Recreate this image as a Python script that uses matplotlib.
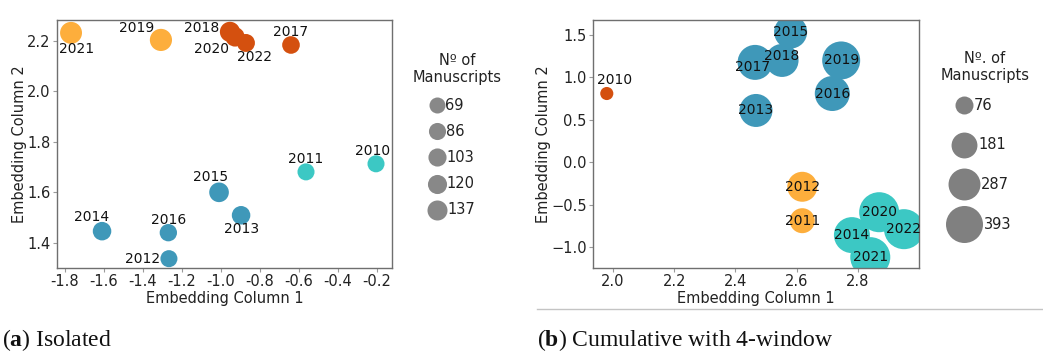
import matplotlib
matplotlib.use("Agg")
import matplotlib.pyplot as plt
import numpy as np

# ============================================================================
# Data
# ============================================================================

# panel (a): isolated
years_a = ['2021', '2019', '2018', '2020', '2022', '2017', '2010', '2011',
           '2015', '2013', '2014', '2016', '2012']
x_a = [-1.769, -1.308, -0.954, -0.928, -0.872, -0.641, -0.205, -0.564,
       -1.010, -0.897, -1.610, -1.270, -1.267]
y_a = [2.232, 2.204, 2.236, 2.216, 2.192, 2.184, 1.713, 1.681,
       1.600, 1.509, 1.446, 1.440, 1.337]
n_a = [175, 180, 140, 125, 100, 95, 85, 85, 130, 110, 110, 90, 85]
group_a = ['light', 'light', 'dark', 'dark', 'dark', 'dark', 'teal', 'teal',
           'blue', 'blue', 'blue', 'blue', 'blue']
legend_a = [69, 86, 103, 120, 137]

# panel (b): cumulative with 4-window
years_b = ['2010', '2015', '2017', '2018', '2019', '2016', '2013', '2012',
           '2011', '2020', '2022', '2014', '2021']
x_b = [1.980, 2.580, 2.464, 2.552, 2.745, 2.716, 2.467, 2.618,
       2.618, 2.869, 2.950, 2.780, 2.840]
y_b = [0.81, 1.535, 1.177, 1.200, 1.200, 0.810, 0.610, -0.290,
       -0.690, -0.590, -0.790, -0.860, -1.120]
n_b = [30, 308, 349, 308, 415, 349, 308, 250, 167, 463, 463, 370, 463]
group_b = ['dark', 'blue', 'blue', 'blue', 'blue', 'blue', 'blue', 'light',
           'light', 'teal', 'teal', 'teal', 'teal']
legend_b = [76, 181, 287, 393]

colors = {'light': '#FDAE3C', 'dark': '#D4500F',
          'blue': '#3F98B9', 'teal': '#3CC8C4'}

# label offsets in pixels (dx right, dy up)
offs_a = [(6, -16), (-24, 12), (-28, 4), (-24, -12), (9, -14), (0, 13),
          (-3, 13), (0, 13), (-8, 15), (0, -14), (-10, 14), (0, 13), (-26, 0)]
offs_b = [(8, 14), (0, 0), (-3, -5), (0, 4), (0, 0), (0, 0), (0, 0), (0, 0),
          (0, 0), (0, 0), (0, 0), (0, 0), (0, 0)]

# ============================================================================
# Plotting
# ============================================================================
W, H = 1043, 352
plt.rcParams['font.family'] = ['DejaVu Sans']
plt.rcParams['mathtext.fontset'] = 'custom'
plt.rcParams['mathtext.rm'] = 'Liberation Serif'
plt.rcParams['mathtext.bf'] = 'Liberation Serif:bold'
fig = plt.figure(figsize=(W / 100, H / 100), dpi=100)

FS = 10.5


def size_a(v):
    # marker area in pt^2 from manuscript count
    d = np.sqrt(110 + 2.12 * np.asarray(v, dtype=float))
    return (0.72 * d) ** 2


def size_b(v):
    d = np.sqrt(73 + 3.3 * np.asarray(v, dtype=float))
    return (0.72 * d) ** 2


def style_axes(ax):
    for sp in ax.spines.values():
        sp.set_color('#6f6f6f')
        sp.set_linewidth(1)
    ax.tick_params(direction='out', length=3, width=0.8, color='#9a9a9a',
                   labelsize=FS, labelcolor='#222222', pad=1.5)
    ax.set_xlabel('Embedding Column 1', fontsize=FS, color='#222222', labelpad=1)
    ax.set_ylabel('Embedding Column 2', fontsize=FS, color='#222222', labelpad=0)


def box(x0, y0, x1, y1):
    return [x0 / W, 1 - y1 / H, (x1 - x0) / W, (y1 - y0) / H]


# ---- panel (a)
ax1 = fig.add_axes(box(57, 20, 392, 268))
ax1.scatter(x_a, y_a, s=size_a(n_a), c=[colors[g] for g in group_a],
            linewidths=0, zorder=2)
for i in range(len(years_a)):
    ax1.annotate(years_a[i], (x_a[i], y_a[i]), xytext=offs_a[i],
                 textcoords='offset pixels', ha='center', va='center',
                 fontsize=10, color='#111111', zorder=3)
ax1.set_xlim(-1.841, -0.123)
ax1.set_ylim(1.30, 2.283)
ax1.set_xticks(np.arange(-1.8, -0.19, 0.2))
ax1.set_xticklabels(['%.1f' % t for t in np.arange(-1.8, -0.19, 0.2)])
ax1.set_yticks([1.4, 1.6, 1.8, 2.0, 2.2])
style_axes(ax1)

# ---- panel (b)
ax2 = fig.add_axes(box(593, 20, 919, 268))
ax2.scatter(x_b, y_b, s=size_b(n_b), c=[colors[g] for g in group_b],
            linewidths=0, zorder=2)
for i in range(len(years_b)):
    ax2.annotate(years_b[i], (x_b[i], y_b[i]), xytext=offs_b[i],
                 textcoords='offset pixels', ha='center', va='center',
                 fontsize=10, color='#111111', zorder=3)
ax2.set_xlim(1.935, 2.999)
ax2.set_ylim(-1.248, 1.677)
ax2.set_xticks([2.0, 2.2, 2.4, 2.6, 2.8])
ax2.set_yticks([-1.0, -0.5, 0.0, 0.5, 1.0, 1.5])
style_axes(ax2)

# ---- size legends, drawn on an overlay in pixel units
ov = fig.add_axes([0, 0, 1, 1])
ov.set_xlim(0, W)
ov.set_ylim(H, 0)
ov.axis('off')

ov.text(457, 69, 'Nº of\nManuscripts', ha='center', va='center',
        fontsize=FS, color='#222222', linespacing=1.2)
for i, v in enumerate(legend_a):
    yy = 105 + 26.2 * i
    ov.scatter([437], [yy], s=size_a([v]), c='#888888', linewidths=0)
    r = np.sqrt(size_a([v])[0]) / 0.72 / 2
    ov.text(437 + r, yy, str(v), ha='left', va='center', fontsize=FS,
            color='#222222')

ov.text(985, 67, 'Nº. of\nManuscripts', ha='center', va='center',
        fontsize=FS, color='#222222', linespacing=1.2)
for i, v in enumerate(legend_b):
    yy = 105 + 39.7 * i
    ov.scatter([964], [yy], s=size_b([v]), c='#808080', linewidths=0)
    r = np.sqrt(size_b([v])[0]) / 0.72 / 2
    ov.text(964 + r + 1, yy, str(v), ha='left', va='center', fontsize=FS,
            color='#222222')

# thin rule under panel (b)
ov.plot([537, 1043], [309, 309], color='#c4c4c4', lw=1)

# captions
ov.text(2, 340, r'($\mathbf{a}$) Isolated', ha='left', va='center',
        fontsize=17, family='Liberation Serif', color='#111111')
ov.text(537, 340, r'($\mathbf{b}$) Cumulative with 4-window', ha='left',
        va='center', fontsize=17, family='Liberation Serif', color='#111111')

fig.savefig('out.png', dpi=100)
